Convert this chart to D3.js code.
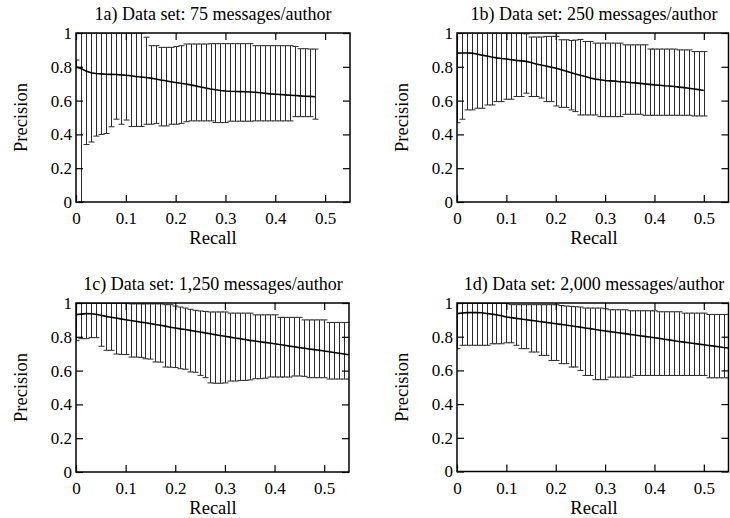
<!DOCTYPE html>
<html>
<head>
<meta charset="utf-8">
<script src="https://cdn.jsdelivr.net/npm/d3@7"></script>
<style>
  body { margin: 0; background: #fff; }
  svg, svg text { font-family: "Liberation Serif", "Times New Roman", "DejaVu Serif", serif; fill: #000; }
</style>
</head>
<body>
<div id="chart"></div>
<script>
// recall steps shared by all four panels
var recallSteps = [0, 0.01, 0.02, 0.03, 0.04, 0.05, 0.06, 0.07, 0.08, 0.09,
    0.10, 0.11, 0.12, 0.13, 0.14, 0.15, 0.16, 0.17, 0.18, 0.19,
    0.20, 0.21, 0.22, 0.23, 0.24, 0.25, 0.26, 0.27, 0.28, 0.29,
    0.30, 0.31, 0.32, 0.33, 0.34, 0.35, 0.36, 0.37, 0.38, 0.39,
    0.40, 0.41, 0.42, 0.43, 0.44, 0.45, 0.46, 0.47, 0.48, 0.49,
    0.50, 0.51, 0.52, 0.53, 0.54, 0.55];

var xTicks = [0, 0.1, 0.2, 0.3, 0.4, 0.5];
var xTickLabels = ["0", "0.1", "0.2", "0.3", "0.4", "0.5"];
var yTicks = [0, 0.2, 0.4, 0.6, 0.8, 1];
var yTickLabels = ["0", "0.2", "0.4", "0.6", "0.8", "1"];

var titles = ["1a) Data set: 75 messages/author", "1b) Data set: 250 messages/author",
    "1c) Data set: 1,250 messages/author", "1d) Data set: 2,000 messages/author"];

// 1a) 75 messages/author
var meanA = [0.80, 0.79, 0.775, 0.765, 0.76, 0.758, 0.756, 0.755, 0.754, 0.752,
    0.75, 0.747, 0.743, 0.74, 0.737, 0.733, 0.728, 0.722, 0.717, 0.712,
    0.707, 0.703, 0.698, 0.693, 0.687, 0.681, 0.675, 0.669, 0.664, 0.66,
    0.657, 0.655, 0.654, 0.653, 0.652, 0.651, 0.649, 0.646, 0.643, 0.64,
    0.638, 0.636, 0.634, 0.632, 0.63, 0.628, 0.626, 0.625, 0.623];
var lowA = [0.795, 0, 0.34, 0.355, 0.39, 0.40, 0.405, 0.445, 0.49, 0.46,
    0.485, 0.447, 0.447, 0.447, 0.46, 0.46, 0.465, 0.45, 0.45, 0.46,
    0.46, 0.465, 0.475, 0.48, 0.48, 0.48, 0.48, 0.48, 0.47, 0.47,
    0.47, 0.478, 0.478, 0.478, 0.478, 0.478, 0.48, 0.48, 0.48, 0.48,
    0.48, 0.48, 0.48, 0.48, 0.505, 0.505, 0.505, 0.505, 0.49];
var highA = [0.84, 1, 1, 1, 1, 1, 1, 1, 1, 1,
    1, 1, 1, 1, 0.975, 0.925, 0.925, 0.915, 0.915, 0.915,
    0.92, 0.925, 0.935, 0.935, 0.935, 0.935, 0.935, 0.937, 0.937, 0.937,
    0.937, 0.937, 0.937, 0.937, 0.937, 0.937, 0.925, 0.925, 0.925, 0.925,
    0.925, 0.925, 0.925, 0.925, 0.92, 0.907, 0.907, 0.905, 0.905];

// 1b) 250 messages/author
var meanB = [0.881, 0.882, 0.882, 0.881, 0.876, 0.869, 0.864, 0.858, 0.853, 0.849,
    0.846, 0.842, 0.838, 0.835, 0.832, 0.825, 0.817, 0.811, 0.805, 0.798,
    0.792, 0.784, 0.775, 0.766, 0.758, 0.75, 0.742, 0.734, 0.727, 0.723,
    0.719, 0.717, 0.715, 0.712, 0.71, 0.707, 0.705, 0.702, 0.699, 0.696,
    0.693, 0.691, 0.688, 0.686, 0.683, 0.68, 0.677, 0.673, 0.669, 0.665, 0.66];
var lowB = [0.469, 0.49, 0.545, 0.545, 0.555, 0.555, 0.574, 0.574, 0.594, 0.594,
    0.608, 0.608, 0.624, 0.624, 0.644, 0.624, 0.624, 0.615, 0.594, 0.594,
    0.568, 0.56, 0.56, 0.545, 0.535, 0.515, 0.515, 0.515, 0.515, 0.505,
    0.505, 0.505, 0.505, 0.505, 0.519, 0.519, 0.519, 0.519, 0.513, 0.513,
    0.513, 0.513, 0.513, 0.513, 0.513, 0.513, 0.513, 0.513, 0.509, 0.509, 0.509];
var highB = [1, 1, 1, 1, 1, 1, 1, 1, 1, 1,
    1, 1, 1, 1, 0.995, 0.976, 0.976, 0.976, 0.98, 0.98,
    0.98, 0.96, 0.96, 0.956, 0.958, 0.962, 0.95, 0.95, 0.94, 0.94,
    0.94, 0.94, 0.94, 0.94, 0.93, 0.93, 0.93, 0.93, 0.93, 0.905,
    0.905, 0.905, 0.905, 0.905, 0.905, 0.9, 0.9, 0.9, 0.89, 0.89, 0.89];

// 1c) 1,250 messages/author
var meanC = [0.931, 0.934, 0.937, 0.936, 0.933, 0.927, 0.921, 0.916, 0.911, 0.906,
    0.901, 0.896, 0.892, 0.887, 0.883, 0.878, 0.873, 0.868, 0.863, 0.857,
    0.852, 0.847, 0.843, 0.838, 0.833, 0.828, 0.823, 0.818, 0.813, 0.808,
    0.803, 0.798, 0.793, 0.789, 0.784, 0.779, 0.775, 0.771, 0.767, 0.763,
    0.759, 0.754, 0.75, 0.745, 0.741, 0.736, 0.732, 0.728, 0.724, 0.72,
    0.716, 0.712, 0.707, 0.703, 0.698, 0.694];
var lowC = [0.779, 0.789, 0.789, 0.795, 0.795, 0.744, 0.72, 0.72, 0.698, 0.696,
    0.695, 0.68, 0.68, 0.678, 0.67, 0.668, 0.651, 0.65, 0.621, 0.62,
    0.618, 0.611, 0.608, 0.592, 0.59, 0.572, 0.558, 0.527, 0.525, 0.525,
    0.527, 0.538, 0.538, 0.542, 0.542, 0.545, 0.552, 0.552, 0.555, 0.562,
    0.562, 0.562, 0.562, 0.562, 0.568, 0.568, 0.566, 0.558, 0.558, 0.558,
    0.558, 0.55, 0.55, 0.55, 0.55, 0.55];
var highC = [1, 0.998, 0.998, 0.998, 0.998, 0.998, 0.998, 0.998, 0.998, 0.998,
    0.998, 0.995, 0.995, 0.995, 0.995, 0.995, 0.995, 0.995, 0.99, 0.99,
    0.982, 0.976, 0.97, 0.963, 0.957, 0.953, 0.95, 0.947, 0.947, 0.947,
    0.947, 0.94, 0.94, 0.94, 0.94, 0.94, 0.93, 0.93, 0.93, 0.93,
    0.93, 0.915, 0.915, 0.915, 0.915, 0.915, 0.9, 0.9, 0.9, 0.9,
    0.9, 0.885, 0.885, 0.885, 0.885, 0.885];

// 1d) 2,000 messages/author
var meanD = [0.937, 0.941, 0.943, 0.943, 0.943, 0.942, 0.938, 0.934, 0.93, 0.924,
    0.917, 0.913, 0.909, 0.905, 0.901, 0.897, 0.893, 0.889, 0.885, 0.881,
    0.877, 0.873, 0.869, 0.865, 0.861, 0.857, 0.852, 0.848, 0.843, 0.838,
    0.834, 0.83, 0.826, 0.822, 0.818, 0.814, 0.81, 0.806, 0.802, 0.798,
    0.794, 0.79, 0.785, 0.781, 0.776, 0.772, 0.768, 0.764, 0.76, 0.756,
    0.752, 0.748, 0.744, 0.74, 0.736, 0.733];
var lowD = [0.729, 0.749, 0.749, 0.749, 0.749, 0.749, 0.749, 0.758, 0.758, 0.758,
    0.764, 0.764, 0.749, 0.729, 0.729, 0.709, 0.709, 0.689, 0.689, 0.659,
    0.659, 0.64, 0.64, 0.62, 0.62, 0.6, 0.57, 0.57, 0.545, 0.545,
    0.545, 0.56, 0.56, 0.56, 0.56, 0.56, 0.57, 0.57, 0.57, 0.57,
    0.57, 0.57, 0.57, 0.57, 0.57, 0.57, 0.57, 0.57, 0.57, 0.57,
    0.57, 0.556, 0.556, 0.556, 0.556, 0.556];
var highD = [0.997, 0.997, 0.997, 0.997, 0.997, 0.997, 0.997, 0.997, 0.997, 0.997,
    0.997, 0.99, 0.99, 0.99, 0.99, 0.99, 0.99, 0.99, 0.99, 0.99,
    0.99, 0.985, 0.982, 0.98, 0.978, 0.976, 0.97, 0.97, 0.97, 0.97,
    0.966, 0.96, 0.96, 0.96, 0.96, 0.954, 0.954, 0.954, 0.954, 0.954,
    0.954, 0.948, 0.948, 0.948, 0.948, 0.948, 0.94, 0.94, 0.94, 0.94,
    0.94, 0.932, 0.932, 0.932, 0.932, 0.932];

var allMeans = [meanA, meanB, meanC, meanD];
var allLows = [lowA, lowB, lowC, lowD];
var allHighs = [highA, highB, highC, highD];

var serif = "'Liberation Serif', 'Times New Roman', 'DejaVu Serif', serif";

// plot boxes for the 2x2 grid
var boxes = [
    {left: 76, top: 33, width: 274, height: 169},
    {left: 457, top: 33, width: 271.5, height: 169},
    {left: 76, top: 303, width: 273, height: 169},
    {left: 457, top: 303, width: 271.5, height: 168.5}
];

var svg = d3.select("#chart")
  .append("svg")
    .attr("width", 730)
    .attr("height", 518)
    .attr("font-family", serif);

boxes.forEach(function(b, k) {
    var g = svg.append("g")
        .attr("transform", "translate(" + b.left + "," + b.top + ")");

    var x = d3.scaleLinear().domain([0, 0.55]).range([0, b.width]);
    var y = d3.scaleLinear().domain([0, 1]).range([b.height, 0]);
    // snap bar positions to pixel centres so 1px lines stay dark
    var xs = function(v) { return Math.round(x(v)) + 0.5; };

    var pts = allMeans[k].map(function(m, i) {
        return {r: recallSteps[i], mean: m, low: allLows[k][i], high: allHighs[k][i]};
    });

    // clip so bars stop at the frame
    g.append("clipPath")
        .attr("id", "clip" + k)
      .append("rect")
        .attr("width", b.width)
        .attr("height", b.height);

    var inner = g.append("g").attr("clip-path", "url(#clip" + k + ")");

    // error bars
    var bars = inner.selectAll(".bar")
        .data(pts)
        .enter()
        .append("g")
        .attr("class", "bar")
        .attr("stroke", "#2a2a2a")
        .attr("stroke-width", 1);
    bars.append("line")
        .attr("x1", function(d) { return xs(d.r); })
        .attr("x2", function(d) { return xs(d.r); })
        .attr("y1", function(d) { return y(d.low); })
        .attr("y2", function(d) { return y(d.high); });
    bars.append("line")
        .attr("x1", function(d) { return xs(d.r) - 3; })
        .attr("x2", function(d) { return xs(d.r) + 3; })
        .attr("y1", function(d) { return y(d.low); })
        .attr("y2", function(d) { return y(d.low); });
    bars.append("line")
        .attr("x1", function(d) { return xs(d.r) - 3; })
        .attr("x2", function(d) { return xs(d.r) + 3; })
        .attr("y1", function(d) { return y(d.high); })
        .attr("y2", function(d) { return y(d.high); });

    // mean precision line
    inner.append("path")
        .datum(pts)
        .attr("fill", "none")
        .attr("stroke", "#000")
        .attr("stroke-width", 1.6)
        .attr("d", d3.line()
            .x(function(d) { return x(d.r); })
            .y(function(d) { return y(d.mean); }));

    // axes, ticks pointing inward on all four sides
    var bottom = g.append("g")
        .attr("transform", "translate(0," + b.height + ")")
        .call(d3.axisBottom(x).tickValues(xTicks)
            .tickFormat(function(d, i) { return xTickLabels[i]; })
            .tickSize(-7).tickPadding(10));
    var left = g.append("g")
        .call(d3.axisLeft(y).tickValues(yTicks)
            .tickFormat(function(d, i) { return yTickLabels[i]; })
            .tickSize(-7).tickPadding(4));
    var top = g.append("g")
        .call(d3.axisTop(x).tickValues(xTicks).tickFormat("").tickSize(-7));
    var right = g.append("g")
        .attr("transform", "translate(" + b.width + ",0)")
        .call(d3.axisRight(y).tickValues(yTicks).tickFormat("").tickSize(-7));

    [bottom, left, top, right].forEach(function(a) {
        a.attr("font-family", serif).attr("font-size", 17);
        a.select(".domain").remove();
        a.selectAll(".tick line").attr("stroke", "#000").attr("stroke-width", 1.2);
        a.selectAll(".tick text").attr("fill", "#000");
    });

    // frame
    g.append("rect")
        .attr("width", b.width)
        .attr("height", b.height)
        .attr("fill", "none")
        .attr("stroke", "#000")
        .attr("stroke-width", 1.5);

    g.append("text")
        .attr("x", 137)
        .attr("y", -13)
        .attr("text-anchor", "middle")
        .attr("font-family", serif)
        .attr("font-size", 18)
        .text(titles[k]);

    g.append("text")
        .attr("x", 137)
        .attr("y", b.height + 42)
        .attr("text-anchor", "middle")
        .attr("font-family", serif)
        .attr("font-size", 18.5)
        .text("Recall");

    g.append("text")
        .attr("transform", "translate(-49," + (b.height / 2) + ") rotate(-90)")
        .attr("text-anchor", "middle")
        .attr("font-family", serif)
        .attr("font-size", 18.5)
        .text("Precision");
});
</script>
</body>
</html>
